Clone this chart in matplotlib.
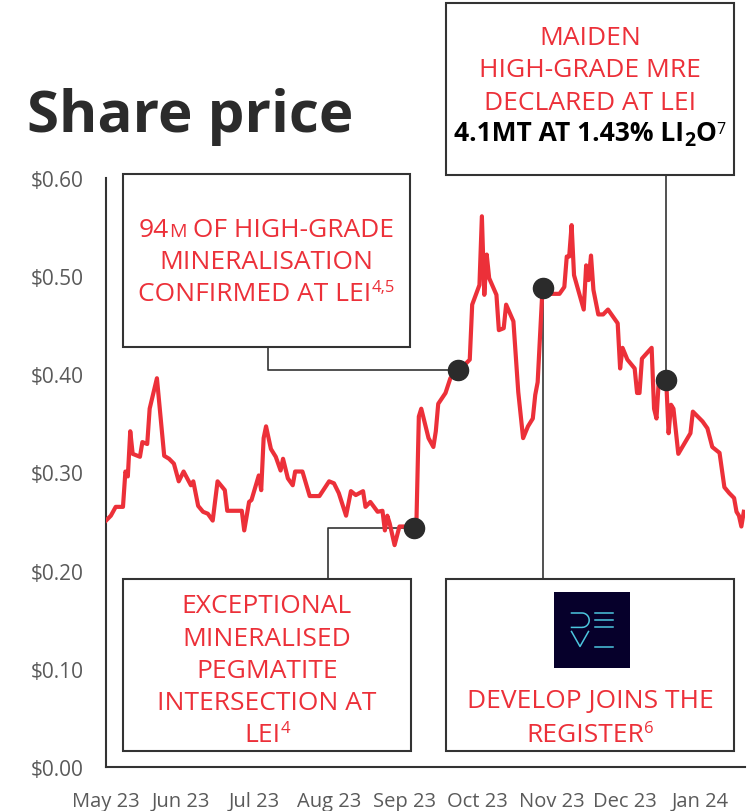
import numpy as np
import matplotlib
matplotlib.use('Agg')
import matplotlib.pyplot as plt
from matplotlib.patches import Rectangle
from matplotlib.transforms import Affine2D

plt.rcParams['font.family'] = ['Open Sans', 'DejaVu Sans']

# share price, days counted from 1 May 2023
start_date = np.datetime64('2023-05-01')
days = [0, 2, 4, 7, 8, 9, 10, 11, 14, 15, 17, 18, 21, 24, 26, 28, 30, 32, 35, 36,
        38, 40, 42, 44, 46, 49, 50, 56, 57, 59, 60, 63, 64, 65, 66, 68, 70, 72, 73, 75,
        77, 78, 81, 84, 88, 92, 94, 96, 99, 101, 103, 106, 107, 109, 112, 114, 115, 116, 117, 119,
        121, 123, 127, 128, 129, 130, 133, 135, 136, 137, 140, 142, 145, 148, 150, 151, 154, 155, 156, 157,
        158, 161, 162, 164, 165, 168, 170, 172, 174, 176, 177, 178, 180, 183, 187, 189, 190, 191, 192, 193,
        197, 198, 199, 200, 201, 203, 205, 207, 211, 212, 213, 215, 218, 219, 220, 221, 225, 226, 227, 228,
        231, 232, 233, 234, 236, 241, 242, 246, 248, 250, 253, 255, 257, 259, 260, 261, 262, 263]
prices = [0.251, 0.256, 0.265, 0.265, 0.301, 0.296, 0.342, 0.319, 0.316, 0.331, 0.329, 0.365, 0.396, 0.317, 0.314, 0.309, 0.291, 0.301, 0.287, 0.291,
          0.266, 0.260, 0.258, 0.251, 0.291, 0.282, 0.261, 0.261, 0.241, 0.270, 0.272, 0.297, 0.282, 0.335, 0.347, 0.324, 0.316, 0.302, 0.314, 0.294,
          0.287, 0.301, 0.301, 0.276, 0.276, 0.291, 0.289, 0.279, 0.256, 0.281, 0.277, 0.281, 0.265, 0.270, 0.260, 0.261, 0.241, 0.256, 0.248, 0.226,
          0.245, 0.245, 0.243, 0.248, 0.357, 0.365, 0.335, 0.326, 0.342, 0.370, 0.381, 0.396, 0.404, 0.410, 0.415, 0.471, 0.491, 0.561, 0.481, 0.522,
          0.498, 0.481, 0.445, 0.447, 0.471, 0.454, 0.382, 0.335, 0.347, 0.355, 0.379, 0.392, 0.488, 0.482, 0.482, 0.489, 0.520, 0.520, 0.552, 0.501,
          0.466, 0.511, 0.496, 0.521, 0.486, 0.461, 0.461, 0.466, 0.452, 0.406, 0.427, 0.415, 0.406, 0.381, 0.381, 0.416, 0.427, 0.365, 0.355, 0.396,
          0.394, 0.340, 0.369, 0.365, 0.319, 0.340, 0.362, 0.352, 0.345, 0.326, 0.320, 0.285, 0.279, 0.274, 0.260, 0.256, 0.245, 0.260]
month_labels = ['May 23', 'Jun 23', 'Jul 23', 'Aug 23', 'Sep 23', 'Oct 23', 'Nov 23', 'Dec 23', 'Jan 24']
event_days = [127, 145, 180, 231]

RED = '#EC3039'
DARK = '#2b2b2b'
W, H = 751, 812

fig = plt.figure(figsize=(W / 100, H / 100), dpi=100)
ax = fig.add_axes([106 / W, 1 - 768 / H, (745 - 106) / W, (768 - 179) / H])
renderer = fig.canvas.get_renderer()
# pixel coords measured from the top-left corner of the figure
pix = Affine2D().scale(1 / W, -1 / H).translate(0, 1) + fig.transFigure

ax.plot(days, prices, color=RED, lw=3, solid_joinstyle='round', zorder=3)
ax.set_xlim(0, 263.5)
ax.set_ylim(0, 0.6)

month_starts = np.arange('2023-05', '2024-02', dtype='datetime64[M]')
ticks = (month_starts.astype('datetime64[D]') - start_date).astype(int)
ax.set_xticks(ticks)
ax.set_xticklabels(month_labels)
ax.set_yticks(np.arange(0, 0.61, 0.1))
ax.set_yticklabels(['${:.2f}'.format(v) for v in np.arange(0, 0.61, 0.1)])
ax.tick_params(axis='y', length=0, pad=16, labelsize=15, labelcolor='#5a5a5a')
ax.tick_params(axis='x', length=0, pad=17, labelsize=14.5, labelcolor='#5a5a5a')
for s in ['top', 'right']:
    ax.spines[s].set_visible(False)
for s in ['left', 'bottom']:
    ax.spines[s].set_color('#333333')
    ax.spines[s].set_linewidth(1.5)

# event dots
event_prices = np.interp(event_days, days, prices)
ax.scatter(event_days, event_prices, s=210, color=DARK, zorder=5, clip_on=False)
dots = pix.inverted().transform(ax.transData.transform(np.column_stack([event_days, event_prices])))

# boxes
boxes = [(123, 175, 410, 348), (123, 580, 411, 752), (446, 580, 734, 752), (446, 4, 734, 176)]
for x0, y0, x1, y1 in boxes:
    ax.add_patch(Rectangle((x0, y0), x1 - x0, y1 - y0, transform=pix, fill=False,
                           ec='#333333', lw=1.5, clip_on=False, zorder=2))

# leader lines
(d1x, d1y), (d2x, d2y), (d3x, d3y), (d4x, d4y) = dots
leaders = [([d1x, 328, 328], [d1y, d1y, 580]),
           ([d2x, 268, 268], [d2y, d2y, 348]),
           ([d3x, d3x], [d3y, 580]),
           ([d4x, d4x], [d4y, 176])]
for xs, ys in leaders:
    ax.plot(xs, ys, transform=pix, color='#333333', lw=1.2, clip_on=False, zorder=2)


def draw_line(cx, y, pieces):
    items = []
    total = 0
    for s, size, weight, color, dy in pieces:
        t = fig.text(0, 0, s, fontsize=size, fontweight=weight, color=color,
                     ha='left', va='baseline', transform=pix)
        w = t.get_window_extent(renderer).width
        items.append((t, w, dy))
        total += w
    x = cx - total / 2
    for t, w, dy in items:
        t.set_position((x, y + dy))
        x += w


FS = 19
SUP = 12

# box A
draw_line(266.5, 237, [('94', FS, 'normal', RED, 0), ('M', 14, 'normal', RED, 0),
                       (' OF HIGH-GRADE', FS, 'normal', RED, 0)])
draw_line(266.5, 269, [('MINERALISATION', FS, 'normal', RED, 0)])
draw_line(266.5, 301, [('CONFIRMED AT LEI', FS, 'normal', RED, 0), ('4,5', SUP, 'normal', RED, -8.5)])

# box B
for yb, s in zip([613, 646, 678, 710], ['EXCEPTIONAL', 'MINERALISED', 'PEGMATITE', 'INTERSECTION AT']):
    draw_line(267, yb, [(s, FS, 'normal', RED, 0)])
draw_line(267, 742, [('LEI', FS, 'normal', RED, 0), ('4', SUP, 'normal', RED, -8.5)])

# box C
draw_line(590, 708, [('DEVELOP JOINS THE', FS, 'normal', RED, 0)])
draw_line(590, 742, [('REGISTER', FS, 'normal', RED, 0), ('6', SUP, 'normal', RED, -8.5)])

# box D
draw_line(590, 45, [('MAIDEN', FS, 'normal', RED, 0)])
draw_line(590, 77, [('HIGH-GRADE MRE', FS, 'normal', RED, 0)])
draw_line(590, 110, [('DECLARED AT LEI', FS, 'normal', RED, 0)])
draw_line(590, 141, [('4.1MT AT 1.43% LI', FS, 'bold', 'black', 0), ('2', 14, 'bold', 'black', 5),
                     ('O', FS, 'bold', 'black', 0), ('7', 11.5, 'normal', 'black', -7)])

# develop logo
ax.add_patch(Rectangle((554, 593), 76, 76, transform=pix, fc='#06002B', ec='none',
                       clip_on=False, zorder=2))
CY = '#4CC6DE'
th = np.linspace(np.pi / 2, -np.pi / 2, 30)
logo_lines = [
    ([571.5, 582] + list(582 + 7.2 * np.cos(th)) + [582, 571.5],
     [614, 614] + list(621.2 - 7.2 * np.sin(th)) + [628.4, 628.4]),
    ([595, 612.5], [614, 614]),
    ([595, 612.5], [621.2, 621.2]),
    ([595, 612.5], [628.4, 628.4]),
    ([571.5, 580, 588.5], [632.5, 647.5, 632.5]),
    ([595, 612.5], [647.5, 647.5]),
]
for xs, ys in logo_lines:
    ax.plot(xs, ys, transform=pix, color=CY, lw=1.1, clip_on=False, zorder=3)

# title
fig.text(27, 132, 'Share price', transform=pix, fontsize=42, fontweight='bold',
         color=DARK, ha='left', va='baseline')

fig.savefig('out.png', dpi=100)
